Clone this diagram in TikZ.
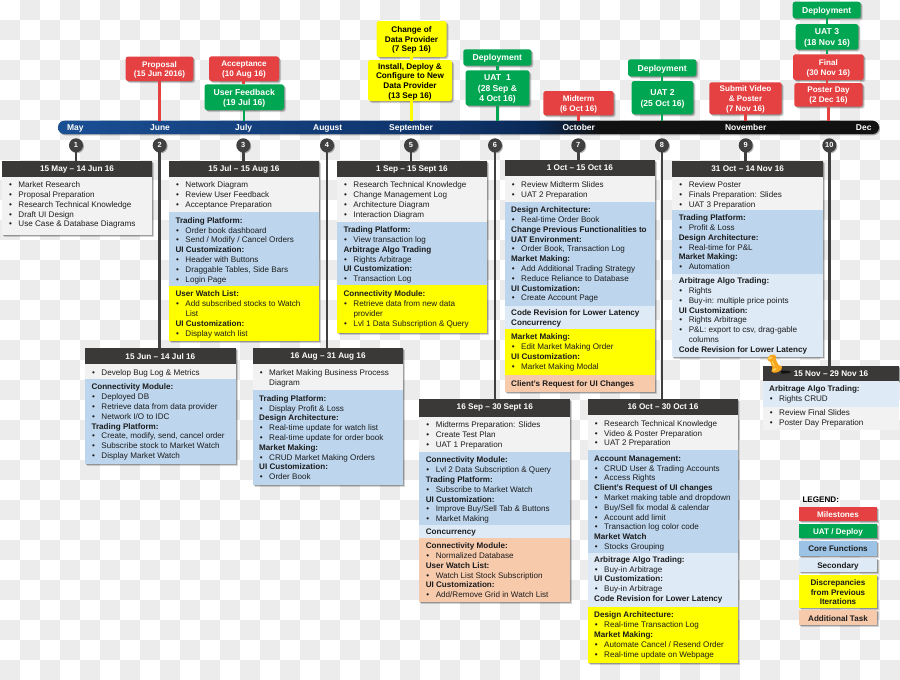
\documentclass[tikz,border=0pt]{standalone}
\usepackage{fontspec}
\setmainfont{Liberation Sans}
\usetikzlibrary{shadows}

\definecolor{tileGray}{HTML}{ECECEC}
\definecolor{msRed}{HTML}{E54142}
\definecolor{msGreen}{HTML}{00A651}
\definecolor{msYellow}{HTML}{FFFF00}
\definecolor{secGray}{HTML}{F2F2F2}
\definecolor{secBlue}{HTML}{BDD6EE}
\definecolor{secLight}{HTML}{DEEAF6}
\definecolor{secPeach}{HTML}{F7CAAC}
\definecolor{coreBlue}{HTML}{9CC2E5}
\definecolor{headDark}{HTML}{3B3838}
\definecolor{poleDark}{HTML}{404040}
\definecolor{inkDark}{HTML}{1C1C1C}
\definecolor{barA}{HTML}{1A4F94}
\definecolor{barB}{HTML}{0E3268}
\definecolor{barC}{HTML}{0A2A58}
\definecolor{barD}{HTML}{111111}
\definecolor{pinOrange}{HTML}{F7A51C}
\definecolor{pinLight}{HTML}{FFD65A}

\pgfdeclarehorizontalshading{barshade}{100bp}{%
  color(0bp)=(barA); color(25bp)=(barA); color(49bp)=(barB);
  color(54bp)=(barC); color(58bp)=(barD); color(100bp)=(barD)}

\tikzset{
  softshadow/.style={
    drop shadow={shadow xshift=1pt,shadow yshift=-1pt,opacity=.25,fill=black},
    drop shadow={shadow xshift=2pt,shadow yshift=-2pt,opacity=.17,fill=black}},
  sectbox/.style={rectangle,inner sep=0pt,outer sep=0pt,softshadow},
  bodytext/.style={inner sep=0pt,outer sep=0pt,align=left,text=inkDark,
    font=\fontsize{8.1}{9.8}\selectfont},
  headbox/.style={rectangle,fill=headDark,text=white,inner sep=0pt,outer sep=0pt,
    font=\fontsize{8.2}{10}\selectfont\bfseries,softshadow},
  msbox/.style={rectangle,rounded corners=2.5pt,inner sep=0pt,outer sep=0pt,softshadow},
  msred/.style={msbox,fill=msRed},
  msgreen/.style={msbox,fill=msGreen},
  msyellow/.style={msbox,fill=msYellow},
  msredtext/.style={align=center,inner sep=0pt,text=white,font=\fontsize{8.1}{9.8}\selectfont\bfseries},
  msgreentext/.style={align=center,inner sep=0pt,text=white,font=\fontsize{8.6}{10.5}\selectfont\bfseries},
  msyellowtext/.style={align=center,inner sep=0pt,text=black,font=\fontsize{8.2}{9.7}\selectfont\bfseries},
  monthlabel/.style={inner sep=0pt,anchor=base,text=white,font=\fontsize{8.45}{10}\selectfont\bfseries},
  numdot/.style={circle,fill=poleDark,text=white,minimum size=14pt,inner sep=0pt,outer sep=0pt,
    font=\fontsize{7.4}{8}\selectfont\bfseries,
    drop shadow={shadow xshift=1pt,shadow yshift=-1pt,opacity=.3,fill=black}},
  pole/.style={draw=poleDark,line width=2.6pt},
  linkred/.style={draw=msRed,line width=2.6pt},
  linkgreen/.style={draw=msGreen,line width=2.6pt},
  linkyellow/.style={draw=msYellow,line width=2.6pt},
  legendbox/.style={rectangle,inner sep=0pt,outer sep=0pt,softshadow},
  legendtext/.style={inner sep=0pt,align=center,font=\fontsize{8.1}{9.8}\selectfont\bfseries},
}

% one line of a section: bold heading, bulleted item, wrapped continuation
\newcommand{\hd}[1]{\strut\textbf{#1}}
\newcommand{\bl}[1]{\strut\makebox[10pt][l]{\hspace{.6pt}•}#1}
\newcommand{\cn}[1]{\strut\hspace*{10pt}#1}

% coloured section of a panel: name, x0, y0, x1, y1, fill, centre of first line, lines
\newcommand{\sect}[8]{%
  \node[sectbox,fill=#6,anchor=north west,minimum width={#4-#2},minimum height={#5-#3}] (#1) at (#2,#3) {};
  \node[bodytext,anchor=north west] (#1t) at (#2+6.5,#7-3.9) {#8};
}
% dark panel heading: name, x0, y0, x1, y1, text
\newcommand{\headbar}[6]{%
  \node[headbox,anchor=north west,minimum width={#4-#2},minimum height={#5-#3}] (#1) at (#2,#3) {#6};
}
% milestone box: name, colour family, x0, y0, x1, y1, text
\newcommand{\mstone}[7]{%
  \node[#2,minimum width={#5-#3},minimum height={#6-#4}] (#1) at ({(#3+#5)/2},{(#4+#6)/2}) {};
  \node[#2text] (#1t) at ({(#3+#5)/2},{(#4+#6)/2+1.1}) {#7};
}
% legend entry: name, fill, text colour, y0, y1, text
\newcommand{\legendentry}[6]{%
  \node[legendbox,fill=#2,minimum width=77.4pt,minimum height={#5-#4}] (#1) at (838,{(#4+#5)/2}) {};
  \node[legendtext,text=#3] (#1t) at (838,{(#4+#5)/2+.8}) {#6};
}

\begin{document}
\begin{tikzpicture}[x=1pt,y=-1pt]
\useasboundingbox (0,0) rectangle (900,680);

% tiled backdrop
\foreach \i in {0,...,44}{
  \foreach \j in {0,...,33}{
    \pgfmathtruncatemacro{\tileodd}{mod(\i+\j,2)}
    \ifnum\tileodd=1
      \fill[tileGray] (20*\i,20*\j) rectangle ++(20,20);
    \fi
  }
}

% time axis
\node[rectangle,rounded corners=6.5pt,shade,shading=barshade,inner sep=0pt,outer sep=0pt,
  minimum width=821pt,minimum height=13.4pt,
  drop shadow={shadow xshift=1pt,shadow yshift=-1.2pt,opacity=.3,fill=black}] (bar) at (468.5,127.4) {};
\node[monthlabel] (mMay) at (75.3,130.3) {May};
\node[monthlabel] (mJun) at (160,130.3) {June};
\node[monthlabel] (mJul) at (243.7,130.3) {July};
\node[monthlabel] (mAug) at (327.7,130.3) {August};
\node[monthlabel] (mSep) at (411,130.3) {September};
\node[monthlabel] (mOct) at (578.7,130.3) {October};
\node[monthlabel] (mNov) at (745.7,130.3) {November};
\node[monthlabel] (mDec) at (863.7,130.3) {Dec};

% milestones above the axis
\mstone{proposal}{msred}{125.7}{56.5}{193.3}{81}{Proposal\\(15 Jun 2016)}
\mstone{accept}{msred}{209}{56.3}{279}{81}{Acceptance\\(10 Aug 16)}
\mstone{feedback}{msgreen}{204.5}{84.3}{284}{110}{User Feedback\\(19 Jul 16)}
\mstone{install}{msyellow}{368}{60}{452}{101}{Install, Deploy \&\\Configure to New\\Data Provider\\(13 Sep 16)}
\mstone{change}{msyellow}{376.5}{21}{446.5}{57}{Change of\\Data Provider\\(7 Sep 16)}
\mstone{deployA}{msgreen}{463.3}{49.3}{531.3}{65.7}{Deployment}
\mstone{uatA}{msgreen}{465.7}{70.3}{529.3}{105.7}{UAT\ \ 1\\(28 Sep \&\\4 Oct 16)}
\mstone{midterm}{msred}{543.3}{91}{613.7}{115.3}{Midterm\\(6 Oct 16)}
\mstone{deployB}{msgreen}{628}{59.3}{696.3}{76.3}{Deployment}
\mstone{uatB}{msgreen}{631.7}{81}{693.3}{114.3}{UAT 2\\(25 Oct 16)}
\mstone{submit}{msred}{709.3}{82.3}{781.7}{114.3}{Submit Video\\\& Poster\\(7 Nov 16)}
\mstone{deployC}{msgreen}{792.7}{1.7}{860.7}{18.3}{Deployment}
\mstone{uatC}{msgreen}{795.7}{24}{858.3}{49.7}{UAT 3\\(18 Nov 16)}
\mstone{final}{msred}{793}{54.3}{863.7}{80}{Final\\(30 Nov 16)}
\mstone{poster}{msred}{794.3}{83}{862.7}{106.7}{Poster Day\\(2 Dec 16)}

% connectors from the milestones down to the axis
\coordinate (axA) at (159.5,120.7);
\coordinate (axB) at (244,120.7);
\coordinate (axC) at (243.5,90);
\coordinate (axD) at (411.5,120.7);
\coordinate (axE) at (497.3,120.7);
\coordinate (axF) at (578.3,120.7);
\coordinate (axG) at (662,120.7);
\coordinate (axH) at (745.7,120.7);
\coordinate (axI) at (828.7,120.7);
\coordinate (axJ) at (826.8,10);
\draw[linkred] (axA |- proposal.south) -- (axA);
\draw[linkred] (axC |- accept.south) -- (axC |- feedback.north);
\draw[linkgreen] (axB |- feedback.south) -- (axB);
\draw[linkyellow] (axD |- change.south) -- (axD |- install.north);
\draw[linkyellow] (axD |- install.south) -- (axD);
\draw[linkgreen] (axE |- deployA.south) -- (axE |- uatA.north);
\draw[linkgreen] (axE |- uatA.south) -- (axE);
\draw[linkred] (axF |- midterm.south) -- (axF);
\draw[linkgreen] (axG |- deployB.south) -- (axG |- uatB.north);
\draw[linkgreen] (axG |- uatB.south) -- (axG);
\draw[linkred] (axH |- submit.south) -- (axH);
\draw[linkgreen] (axJ |- deployC.south) -- (axJ |- uatC.north);
\draw[linkgreen] (axJ |- uatC.south) -- (axJ |- final.north);
\draw[linkred] (axJ |- final.south) -- (axJ |- poster.north);
\draw[linkred] (axI |- poster.south) -- (axI);

% numbered markers below the axis
\node[numdot] (n1) at (76,145.3) {1};
\node[numdot] (n2) at (159.7,145.3) {2};
\node[numdot] (n3) at (243.3,145.3) {3};
\node[numdot] (n4) at (327,145.3) {4};
\node[numdot] (n5) at (411,145.3) {5};
\node[numdot] (n6) at (495,145.3) {6};
\node[numdot] (n7) at (578.3,145.3) {7};
\node[numdot] (n8) at (662,145.3) {8};
\node[numdot] (n9) at (745.7,145.3) {9};
\node[numdot] (n10) at (829.3,145.3) {10};

% panel 1
\headbar{hA}{2}{161}{152}{177}{15 May – 14 Jun 16}
\sect{pAa}{2}{177}{152}{235}{secGray}{184.7}{\bl{Market Research}\\\bl{Proposal Preparation}\\\bl{Research Technical Knowledge}\\\bl{Draft UI Design}\\\bl{Use Case \& Database Diagrams}}

% panel 3
\headbar{hC}{169}{161}{319}{177}{15 Jul – 15 Aug 16}
\sect{pCa}{169}{177}{319}{212}{secGray}{184.7}{\bl{Network Diagram}\\\bl{Review User Feedback}\\\bl{Acceptance Preparation}}
\sect{pCb}{169}{212}{319}{285.7}{secBlue}{220.3}{\hd{Trading Platform:}\\\bl{Order book dashboard}\\\bl{Send / Modify / Cancel Orders}\\\hd{UI Customization:}\\\bl{Header with Buttons}\\\bl{Draggable Tables, Side Bars}\\\bl{Login Page}}
\sect{pCc}{169}{285.7}{319}{340.7}{msYellow}{294}{\hd{User Watch List:}\\\bl{Add subscribed stocks to Watch}\\\cn{List}\\\hd{UI Customization:}\\\bl{Display watch list}}

% panel 5
\headbar{hE}{337}{161}{487}{177}{1 Sep – 15 Sept 16}
\sect{pEa}{337}{177}{487}{221.7}{secGray}{184.7}{\bl{Research Technical Knowledge}\\\bl{Change Management Log}\\\bl{Architecture Diagram}\\\bl{Interaction Diagram}}
\sect{pEb}{337}{221.7}{487}{285.3}{secBlue}{229.7}{\hd{Trading Platform:}\\\bl{View transaction log}\\\hd{Arbitrage Algo Trading}\\\bl{Rights Arbitrage}\\\hd{UI Customization:}\\\bl{Transaction Log}}
\sect{pEc}{337}{285.3}{487}{332.7}{msYellow}{294}{\hd{Connectivity Module:}\\\bl{Retrieve data from new data}\\\cn{provider}\\\bl{Lvl 1 Data Subscription \& Query}}

% panel 7
\headbar{hG}{504.7}{159.7}{655}{175.7}{1 Oct – 15 Oct 16}
\sect{pGa}{504.7}{175.7}{655}{201.7}{secGray}{184.3}{\bl{Review Midterm Slides}\\\bl{UAT 2 Preparation}}
\sect{pGb}{504.7}{201.7}{655}{306}{secBlue}{209.7}{\hd{Design Architecture:}\\\bl{Real-time Order Book}\\\hd{Change Previous Functionalities to}\\\hd{UAT Environment:}\\\bl{Order Book, Transaction Log}\\\hd{Market Making:}\\\bl{Add Additional Trading Strategy}\\\bl{Reduce Reliance to Database}\\\hd{UI Customization:}\\\bl{Create Account Page}}
\sect{pGc}{504.7}{306}{655}{328.7}{secLight}{313}{\hd{Code Revision for Lower Latency}\\\hd{Concurrency}}
\sect{pGd}{504.7}{328.7}{655}{375}{msYellow}{337}{\hd{Market Making:}\\\bl{Edit Market Making Order}\\\hd{UI Customization:}\\\bl{Market Making Modal}}
\sect{pGe}{504.7}{375}{655}{391.7}{secPeach}{383.3}{\hd{Client's Request for UI Changes}}

% panel 9
\headbar{hI}{672.3}{161}{823}{176.5}{31 Oct – 14 Nov 16}
\sect{pIa}{672.3}{176.5}{823}{209.7}{secGray}{184.7}{\bl{Review Poster}\\\bl{Finals Preparation: Slides}\\\bl{UAT 3 Preparation}}
\sect{pIb}{672.3}{209.7}{823}{274}{secBlue}{217.7}{\hd{Trading Platform:}\\\bl{Profit \& Loss}\\\hd{Design Architecture:}\\\bl{Real-time for P\&L}\\\hd{Market Making:}\\\bl{Automation}}
\sect{pIc}{672.3}{274}{823}{356.7}{secLight}{280.7}{\hd{Arbitrage Algo Trading:}\\\bl{Rights}\\\bl{Buy-in: multiple price points}\\\hd{UI Customization:}\\\bl{Rights Arbitrage}\\\bl{P\&L: export to csv, drag-gable}\\\cn{columns}\\\hd{Code Revision for Lower Latency}}

% panel 2
\headbar{hB}{85}{348.3}{235.7}{364.3}{15 Jun – 14 Jul 16}
\sect{pBa}{85}{364.3}{235.7}{379}{secGray}{372.3}{\bl{Develop Bug Log \& Metrics}}
\sect{pBb}{85}{379}{235.7}{463.7}{secBlue}{387}{\hd{Connectivity Module:}\\\bl{Deployed DB}\\\bl{Retrieve data from data provider}\\\bl{Network I/O to IDC}\\\hd{Trading Platform:}\\\bl{Create, modify, send, cancel order}\\\bl{Subscribe stock to Market Watch}\\\bl{Display Market Watch}}

% panel 4
\headbar{hD}{252.7}{348.3}{403.3}{364.3}{16 Aug – 31 Aug 16}
\sect{pDa}{252.7}{364.3}{403.3}{389.7}{secGray}{372.7}{\bl{Market Making Business Process}\\\cn{Diagram}}
\sect{pDb}{252.7}{389.7}{403.3}{484.7}{secBlue}{398.3}{\hd{Trading Platform:}\\\bl{Display Profit \& Loss}\\\hd{Design Architecture:}\\\bl{Real-time update for watch list}\\\bl{Real-time update for order book}\\\hd{Market Making:}\\\bl{CRUD Market Making Orders}\\\hd{UI Customization:}\\\bl{Order Book}}

% panel 6
\headbar{hF}{419.3}{399}{570.3}{416.7}{16 Sep – 30 Sept 16}
\sect{pFa}{419.3}{416.7}{570.3}{451.7}{secGray}{425}{\bl{Midterms Preparation: Slides}\\\bl{Create Test Plan}\\\bl{UAT 1 Preparation}}
\sect{pFb}{419.3}{451.7}{570.3}{525.3}{secBlue}{460}{\hd{Connectivity Module:}\\\bl{Lvl 2 Data Subscription \& Query}\\\hd{Trading Platform:}\\\bl{Subscribe to Market Watch}\\\hd{UI Customization:}\\\bl{Improve Buy/Sell Tab \& Buttons}\\\bl{Market Making}}
\sect{pFc}{419.3}{525.3}{570.3}{537.7}{secLight}{532}{\hd{Concurrency}}
\sect{pFd}{419.3}{537.7}{570.3}{601.7}{secPeach}{545.7}{\hd{Connectivity Module:}\\\bl{Normalized Database}\\\hd{User Watch List:}\\\bl{Watch List Stock Subscription}\\\hd{UI Customization:}\\\bl{Add/Remove Grid in Watch List}}

% panel 8
\headbar{hH}{587.7}{399}{738.3}{415}{16 Oct – 30 Oct 16}
\sect{pHa}{587.7}{415}{738.3}{450}{secGray}{423.3}{\bl{Research Technical Knowledge}\\\bl{Video \& Poster Preparation}\\\bl{UAT 2 Preparation}}
\sect{pHb}{587.7}{450}{738.3}{553}{secBlue}{458.3}{\hd{Account Management:}\\\bl{CRUD User \& Trading Accounts}\\\bl{Access Rights}\\\hd{Client's Request of UI changes}\\\bl{Market making table and dropdown}\\\bl{Buy/Sell fix modal \& calendar}\\\bl{Account add limit}\\\bl{Transaction log color code}\\\hd{Market Watch}\\\bl{Stocks Grouping}}
\sect{pHc}{587.7}{553}{738.3}{606.7}{secLight}{559.3}{\hd{Arbitrage Algo Trading:}\\\bl{Buy-in Arbitrage}\\\hd{UI Customization:}\\\bl{Buy-in Arbitrage}\\\hd{Code Revision for Lower Latency}}
\sect{pHd}{587.7}{606.7}{738.3}{662.7}{msYellow}{615}{\hd{Design Architecture:}\\\bl{Real-time Transaction Log}\\\hd{Market Making:}\\\bl{Automate Cancel / Resend Order}\\\bl{Real-time update on Webpage}}

% panel 10, pinned on at its corner
\headbar{hJ}{762.7}{365.7}{899.3}{380.7}{15 Nov – 29 Nov 16}
\node[rectangle,fill=secGray,inner sep=0pt,outer sep=0pt,anchor=north west,minimum width=136.6pt,minimum height=23.3pt] (pJb) at (762.7,406.7) {};
\node[bodytext,anchor=north west] (pJbt) at (769.2,408.4) {\bl{Review Final Slides}\\\bl{Poster Day Preparation}};
\node[rectangle,fill=secLight,inner sep=0pt,outer sep=0pt,anchor=north west,minimum width=136.6pt,minimum height=26pt] (pJa) at (762.7,380.7) {};
\node[bodytext,anchor=north west] (pJat) at (769.2,384.4) {\hd{Arbitrage Algo Trading:}\\\bl{Rights CRUD}};

% poles from the markers to the panels
\draw[pole] (n1) -- (n1 |- hA.north);
\draw[pole] (n2) -- (n2 |- hB.north);
\draw[pole] (n3) -- (n3 |- hC.north);
\draw[pole] (n4) -- (n4 |- hD.north);
\draw[pole] (n5) -- (n5 |- hE.north);
\draw[pole] (n6) -- (n6 |- hF.north);
\draw[pole] (n7) -- (n7 |- hG.north);
\draw[pole] (n8) -- (n8 |- hH.north);
\draw[pole] (n9) -- (n9 |- hI.north);
\draw[pole] (n10) -- (n10 |- hJ.north);

% pushpin, its shadow falling across the panel heading
\fill[black,opacity=.7] (781,371) .. controls (784,370) and (789,371) .. (791.5,372)
  .. controls (789,373.5) and (784,373.8) .. (781.5,373.5) -- cycle;
\begin{scope}[shift={(774.5,364)},rotate=24]
  \draw[poleDark,line width=.6pt] (0,6) -- (0,12);
  \fill[pinOrange] (-2.8,-6) -- (2.8,-6) -- (3.5,4) -- (-3.5,4) -- cycle;
  \fill[pinOrange] (0,-6.5) ellipse (4.8pt and 3.2pt);
  \fill[pinOrange] (0,5.5) ellipse (5.8pt and 3.2pt);
  \fill[pinLight] (-1.5,-7.2) ellipse (2.2pt and 1.1pt);
  \fill[pinLight] (-1.6,-3.5) rectangle (-.5,2);
  \fill[pinLight] (-2.2,5) ellipse (2.2pt and 1pt);
\end{scope}

% legend
\node[inner sep=0pt,anchor=west,text=black,font=\fontsize{8.1}{10}\selectfont\bfseries] (legendTitle) at (802.3,499.7) {LEGEND:};
\legendentry{lgA}{msRed}{white}{506.7}{521.3}{Milestones}
\legendentry{lgB}{msGreen}{white}{524}{538.3}{UAT / Deploy}
\legendentry{lgC}{coreBlue}{inkDark}{540.7}{555.7}{Core Functions}
\legendentry{lgD}{secLight}{inkDark}{558.3}{572.3}{Secondary}
\legendentry{lgE}{msYellow}{inkDark}{575}{607.7}{Discrepancies\\from Previous\\Iterations}
\legendentry{lgF}{secPeach}{inkDark}{610.3}{625}{Additional Task}
\end{tikzpicture}
\end{document}
